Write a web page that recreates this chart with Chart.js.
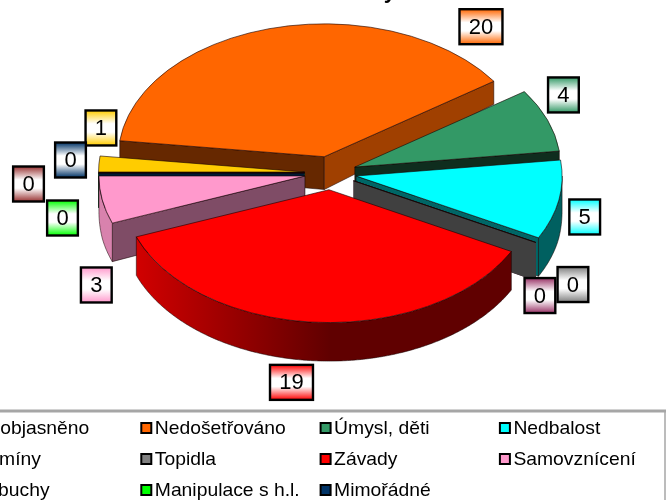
<!DOCTYPE html>
<html lang="cs">
<head>
<meta charset="utf-8">
<title>Příčiny</title>
<style>html,body{margin:0;padding:0;background:#fff;overflow:hidden}canvas{display:block}</style>
<script src="https://cdn.jsdelivr.net/npm/chart.js@4"></script>
</head>
<body>
<canvas id="c" width="666" height="500"></canvas>
<script>
const categories = ["Neobjasněno","Nedošetřováno","Úmysl, děti","Nedbalost","Kamíny","Topidla","Závady","Samovznícení","Výbuchy","Manipulace s h.l.","Mimořádné"];
const values = [1,20,4,5,0,0,19,3,0,0,0];
const sliceColors = ["#FFCC00","#FF6600","#339966","#00FFFF","#993366","#808080","#FF0000","#FF99CC","#993333","#00FF00","#003366"];
const titleText = "Příčiny";

// styling: shade of the two cut faces of each slice [start, end]
const cutShade = [[.4,.4],[.4,.63],[.3,.3],[.4,.4],[.5,.5],[.5,.5],[.5,.5],[.5,.5],[.5,.5],[.5,.5],[.5,.5]];
// styling: nudge of each value box away from its slice's rim midpoint
const boxNudge = [[2,-36],[206,-1],[16,-25],[26,17],[4,53],[37,42],[-25,60],[-6,85],[-70,11],[-36,45],[-28,-13]];

const TILT = 0.645, EXPLODE = 26, RADIUS = 206;
const shade = (hex,f)=>{const n=parseInt(hex.slice(1),16);return `rgb(${(n>>16)*f|0},${((n>>8)&255)*f|0},${(n&255)*f|0})`;};
const depthAt = y => y<=82 ? 23 : y>=200 ? 38.5 : 23+(y-82)*15.5/118;

const pie3d = {
  id:'pie3d',
  beforeDatasetDraw(chart){
    const ctx = chart.ctx, arcs = chart.getDatasetMeta(0).data;
    const geo = arcs.map((a,i)=>{
      const mid=(a.startAngle+a.endAngle)/2, off=a.options.offset, R=a.outerRadius;
      const ax=a.x+Math.cos(mid)*off, ay=a.y+TILT*Math.sin(mid)*off;
      return {i,a,mid,off,R,ax,ay,s:a.startAngle,e:a.endAngle,key:a.y+TILT*Math.sin(mid)*(off+R/2)};
    });
    const pt=(g,t)=>{const x=g.ax+Math.cos(t)*g.R,y=g.ay+TILT*Math.sin(t)*g.R;return [x,y];};
    const order=[...geo].sort((p,q)=>p.key-q.key);
    ctx.save();
    ctx.lineJoin='round';
    const edge='rgba(20,0,0,.75)';
    for(const g of order){
      const col=sliceColors[g.i], zero=g.e<=g.s;
      // cut faces: only those whose outward side faces the viewer
      const faces=[];
      if(-Math.cos(g.s)>0)faces.push([g.s,cutShade[g.i][0]]);
      if(Math.cos(g.e)>0)faces.push([g.e,cutShade[g.i][1]]);
      faces.forEach(([t,f])=>{
        const [x,y]=pt(g,t);
        ctx.beginPath();
        ctx.moveTo(g.ax,g.ay);ctx.lineTo(x,y);
        ctx.lineTo(x,y+depthAt(y));ctx.lineTo(g.ax,g.ay+depthAt(g.ay));ctx.closePath();
        ctx.fillStyle=shade(col,f);ctx.fill();
        if(!zero){ctx.strokeStyle=edge;ctx.lineWidth=.7;ctx.stroke();}
      });
      // rim: only the part facing the viewer
      const rs=Math.max(g.s,0), re=Math.min(g.e,Math.PI);
      if(re>rs){
        const gx=ctx.createLinearGradient(g.a.x-g.R,0,g.a.x,0);
        gx.addColorStop(0,shade(col,.85));gx.addColorStop(1,shade(col,.38));
        ctx.beginPath();
        const top=[],steps=Math.ceil((re-rs)/0.01);
        for(let k=0;k<=steps;k++)top.push(pt(g,rs+(re-rs)*k/steps));
        top.forEach(([x,y],k)=>k?ctx.lineTo(x,y):ctx.moveTo(x,y));
        for(let k=steps;k>=0;k--){const [x,y]=top[k];ctx.lineTo(x,y+depthAt(y));}
        ctx.closePath();
        ctx.fillStyle=gx;ctx.fill();
        ctx.strokeStyle=edge;ctx.lineWidth=.7;ctx.stroke();
      }
      // top
      ctx.beginPath();
      ctx.moveTo(g.ax,g.ay);
      ctx.ellipse(g.ax,g.ay,g.R,TILT*g.R,0,g.s,g.e);
      ctx.closePath();
      ctx.fillStyle=col;ctx.fill();
      ctx.strokeStyle=edge;ctx.lineWidth=.8;ctx.stroke();
    }
    ctx.restore();
    return false;
  },
  afterDatasetsDraw(chart){
    const ctx=chart.ctx, arcs=chart.getDatasetMeta(0).data;
    ctx.save();
    // value boxes
    ctx.font='22px "Liberation Sans", Arial, sans-serif';
    ctx.textAlign='center';ctx.textBaseline='middle';
    arcs.forEach((a,i)=>{
      const mid=(a.startAngle+a.endAngle)/2, rr=a.options.offset+a.outerRadius;
      const cx=a.x+Math.cos(mid)*rr+boxNudge[i][0], cy=a.y+TILT*Math.sin(mid)*rr+boxNudge[i][1];
      const txt=String(values[i]), w=ctx.measureText(txt).width+18.5, h=35;
      const gr=ctx.createLinearGradient(0,cy-h/2,0,cy+h/2);
      gr.addColorStop(0,sliceColors[i]);gr.addColorStop(.38,'#fff');gr.addColorStop(.62,'#fff');gr.addColorStop(1,sliceColors[i]);
      ctx.fillStyle=gr;ctx.fillRect(cx-w/2,cy-h/2,w,h);
      ctx.strokeStyle='#000';ctx.lineWidth=2.4;ctx.strokeRect(cx-w/2,cy-h/2,w,h);
      ctx.fillStyle='#000';ctx.fillText(txt,cx,cy+1);
    });
    // cropped title: only the descender shows at the top edge
    ctx.font='bold 22px "Liberation Sans", Arial, sans-serif';
    ctx.textAlign='right';ctx.textBaseline='alphabetic';
    ctx.fillText(titleText,396,-2);
    // legend frame
    ctx.strokeStyle='#A6A6A6';
    ctx.lineWidth=3;ctx.beginPath();ctx.moveTo(0,411);ctx.lineTo(666,411);ctx.stroke();
    ctx.lineWidth=1.5;ctx.beginPath();ctx.moveTo(665,411);ctx.lineTo(665,500);ctx.stroke();
    // legend
    ctx.textAlign='left';ctx.textBaseline='alphabetic';
    categories.forEach((name,i)=>{
      const col=i%4,row=(i-col)/4;
      const sx=-39+179.3*col, sy=422+31*row;
      ctx.fillStyle=sliceColors[i];ctx.fillRect(sx+1,sy+1,10,10);
      ctx.strokeStyle='#000';ctx.lineWidth=2;ctx.strokeRect(sx+1,sy+1,10,10);
      ctx.save();
      ctx.translate(sx+14.5,sy+12);ctx.scale(1.05,1);
      ctx.font='18.4px "Liberation Sans", Arial, sans-serif';
      ctx.fillStyle='#000';ctx.fillText(name,0,0);
      ctx.restore();
    });
    ctx.restore();
  }
};

new Chart(document.getElementById('c'),{
  type:'pie',
  data:{labels:categories,datasets:[{data:values,backgroundColor:sliceColors,offset:EXPLODE}]},
  options:{
    responsive:false,animation:false,rotation:-90,radius:RADIUS,
    layout:{padding:{right:5,bottom:154}},
    plugins:{legend:{display:false},tooltip:{enabled:false},title:{display:false}}
  },
  plugins:[pie3d]
});
</script>
</body>
</html>
